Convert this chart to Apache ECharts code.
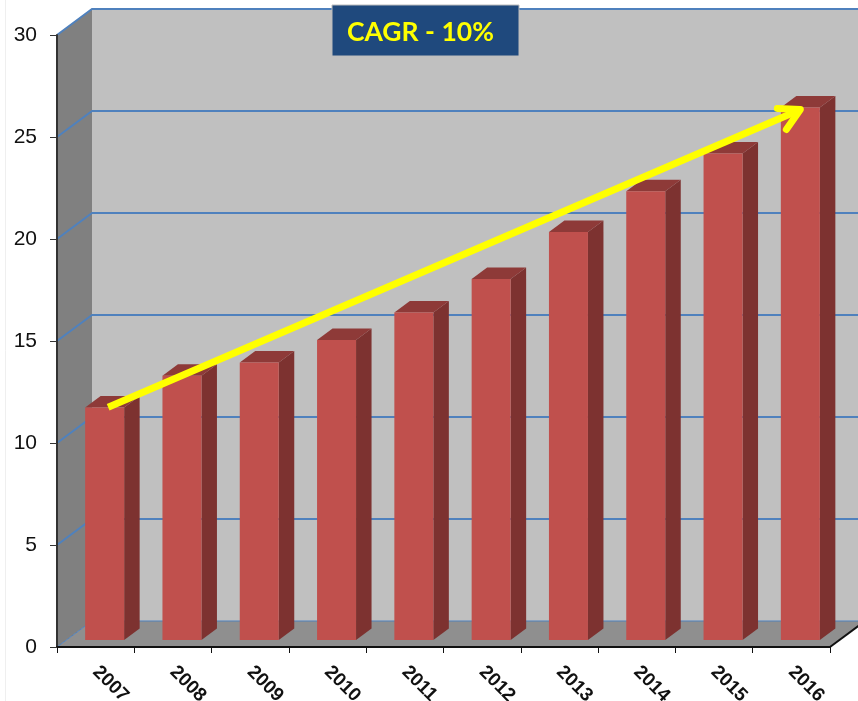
<!DOCTYPE html>
<html>
<head>
<meta charset="utf-8">
<script src="https://cdn.jsdelivr.net/npm/echarts@6/dist/echarts.min.js"></script>
<style>
  html, body { margin: 0; padding: 0; background: #fff; }
  #chart { width: 858px; height: 701px; }
</style>
</head>
<body>
<div id="chart"></div>
<script>
const years = ['2007', '2008', '2009', '2010', '2011', '2012', '2013', '2014', '2015', '2016'];
const values = [11.4, 12.95, 13.6, 14.7, 16.05, 17.7, 20.0, 22.0, 23.85, 26.1];
const yTicks = [0, 5, 10, 15, 20, 25, 30];
const arrowFrom = [0, 11.75];
const arrowTo = [9, 26.35];

// fake 3d: how far back the walls go and where a bar sits in that depth
const wallDx = 35, wallDy = -26;
const barDx = 9, barDy = -7, barW = 39, sideDx = 15.5, sideDy = -11.5;

const myChart = echarts.init(document.getElementById('chart'));

const poly = (points, fill) => ({ type: 'polygon', shape: { points }, style: { fill } });

const renderWalls = (params, api) => {
  const c = params.coordSys;
  const l = c.x, r = c.x + c.width, t = c.y, b = c.y + c.height;
  return {
    type: 'group',
    children: [
      poly([[l + wallDx, t + wallDy], [r + wallDx, t + wallDy], [r + wallDx, b + wallDy], [l + wallDx, b + wallDy]], '#C0C0C0'),
      poly([[l, t], [l + wallDx, t + wallDy], [l + wallDx, b + wallDy], [l, b]], '#808080'),
      poly([[l, b], [l + wallDx, b + wallDy], [r + wallDx, b + wallDy], [r, b]], '#8F8F8F'),
      { type: 'line', shape: { x1: r, y1: b, x2: r + wallDx, y2: b + wallDy }, style: { stroke: '#111', lineWidth: 2 } }
    ]
  };
};

const renderGrid = (params, api) => {
  const c = params.coordSys;
  const y = api.coord([0, api.value(0)])[1];
  const isFloor = api.value(0) === 0;
  return {
    type: 'polyline',
    shape: { points: [[c.x, y], [c.x + wallDx, y + wallDy], [c.x + c.width + wallDx, y + wallDy]] },
    style: { fill: 'none', stroke: '#4F81BD', lineWidth: isFloor ? 1 : 2 }
  };
};

const renderBar = (params, api) => {
  const i = api.value(0);
  const base = api.coord([i, 0]);
  const top = api.coord([i, api.value(1)]);
  const x0 = base[0] - barW / 2 + barDx;
  const x1 = x0 + barW;
  const y0 = top[1] + barDy;
  const y1 = base[1] + barDy;
  return {
    type: 'group',
    children: [
      poly([[x1, y0], [x1 + sideDx, y0 + sideDy], [x1 + sideDx, y1 + sideDy], [x1, y1]], '#7D3230'),
      poly([[x0, y0], [x0 + sideDx, y0 + sideDy], [x1 + sideDx, y0 + sideDy], [x1, y0]], '#8E3A38'),
      poly([[x0, y0], [x1, y0], [x1, y1], [x0, y1]], '#C0504D')
    ]
  };
};

const renderArrow = (params, api) => {
  const a = api.coord(arrowFrom);
  const b = api.coord(arrowTo);
  const x0 = a[0] + 12.5, y0 = a[1], x1 = b[0] + 9, y1 = b[1];
  const yellow = { fill: 'none', stroke: '#FFFF00', lineWidth: 7 };
  return {
    type: 'group',
    children: [
      { type: 'line', shape: { x1: x0, y1: y0, x2: x1 - 2, y2: y1 + 1 }, style: yellow },
      {
        type: 'polyline',
        shape: { points: [[x1 - 23, y1 - 1], [x1, y1], [x1 - 14, y1 + 20]] },
        style: { ...yellow, lineCap: 'round', lineJoin: 'round' }
      }
    ]
  };
};

const getOption = () => ({
  animation: false,
  backgroundColor: '#fff',
  // labels hang past the bottom, don't let the grid shrink for them
  grid: { left: 57, right: 28, top: 35, bottom: 54, outerBoundsMode: 'none' },
  xAxis: {
    type: 'category',
    data: years,
    z: 5,
    axisLine: { lineStyle: { color: '#111', width: 2 } },
    axisTick: { show: true, length: 6, interval: 0, lineStyle: { color: '#111', width: 1 } },
    axisLabel: {
      rotate: -45,
      interval: 0,
      margin: 22,
      color: '#111',
      fontFamily: 'Liberation Sans',
      fontWeight: 'bold',
      fontSize: 19
    }
  },
  yAxis: {
    type: 'value',
    min: 0,
    max: 30,
    interval: 5,
    z: 5,
    splitLine: { show: false },
    axisLine: { show: true, lineStyle: { color: '#333', width: 2 } },
    axisTick: { show: true, length: 7, lineStyle: { color: '#333', width: 1 } },
    axisLabel: { margin: 20, color: '#111', fontFamily: 'Liberation Sans', fontSize: 21, padding: [3, 0, 0, 0] }
  },
  series: [
    { type: 'custom', z: 1, silent: true, data: [[0]], renderItem: renderWalls },
    { type: 'custom', z: 2, silent: true, data: yTicks.map(v => [v]), renderItem: renderGrid },
    { type: 'custom', z: 3, silent: true, data: values.map((v, i) => [i, v]), encode: { x: 0, y: 1 }, renderItem: renderBar },
    { type: 'custom', z: 4, silent: true, data: [[0]], renderItem: renderArrow }
  ],
  graphic: [
    { type: 'line', z: 0, shape: { x1: 5.5, y1: 0, x2: 5.5, y2: 701 }, style: { stroke: '#EFEFEF', lineWidth: 1 } },
    {
      type: 'rect',
      z: 20,
      shape: { x: 332, y: 5, width: 187, height: 51 },
      style: { fill: '#1F497D', stroke: '#BDBDBD', lineWidth: 1 }
    },
    {
      type: 'text',
      z: 21,
      left: 347,
      top: 19,
      style: { text: 'CAGR - 10%', fill: '#FFFF00', font: 'bold 26.5px Lato' }
    }
  ]
});

myChart.setOption(getOption());
</script>
</body>
</html>
